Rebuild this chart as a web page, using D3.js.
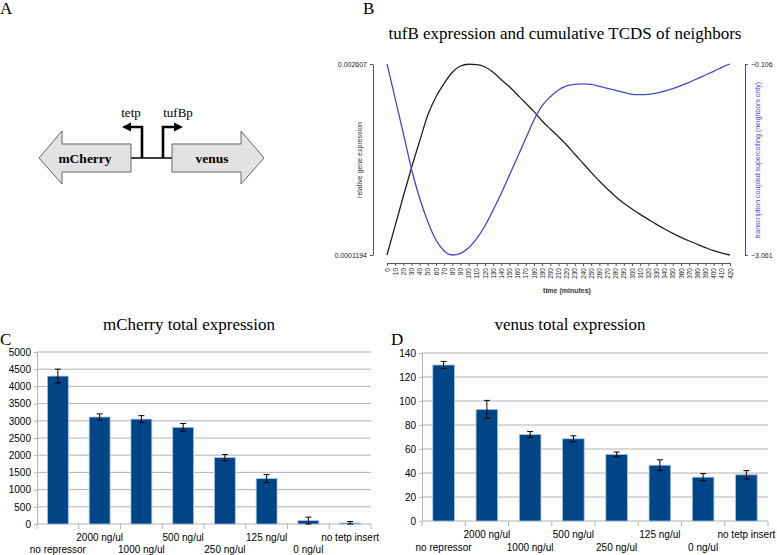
<!DOCTYPE html>
<html>
<head>
<meta charset="utf-8">
<script src="https://d3js.org/d3.v7.min.js"></script>
<style>
body { margin: 0; background: #fff; }
svg { display: block; }
</style>
</head>
<body>
<script>
// globals
var width = 777;
var height = 555;
var serif = '"Liberation Serif", "DejaVu Serif", serif';
var sans = '"Liberation Sans", Arial, sans-serif';

// panel B data: time (minutes), relative gene expression, TCDS of neighbors
var times = [0, 10, 20, 30, 40, 50, 60, 70, 80, 90, 100, 110, 120, 130, 140, 150, 160, 170, 180, 190, 200,
  210, 220, 230, 240, 250, 260, 270, 280, 290, 300, 310, 320, 330, 340, 350, 360, 370, 380, 390, 400, 410, 420];
var expression = [0.0001194, 0.000501, 0.000884, 0.001256, 0.001604, 0.001943, 0.002181, 0.002356, 0.002499,
  0.002581, 0.002604, 0.002598, 0.002568, 0.002499, 0.002402, 0.002311, 0.002203, 0.002095, 0.001986, 0.001865,
  0.001760, 0.001660, 0.001552, 0.001431, 0.001314, 0.001196, 0.001083, 0.000979, 0.000879, 0.000793, 0.000718,
  0.000649, 0.000584, 0.000519, 0.000458, 0.000402, 0.000350, 0.000302, 0.000259, 0.000215, 0.000175, 0.000145,
  0.0001194];
var supercoiling = [-0.106, -0.637, -1.178, -1.730, -2.184, -2.546, -2.829, -2.999, -3.061, -3.035, -2.948,
  -2.803, -2.608, -2.365, -2.106, -1.823, -1.540, -1.255, -0.972, -0.751, -0.612, -0.508, -0.446, -0.420,
  -0.415, -0.420, -0.451, -0.482, -0.513, -0.544, -0.575, -0.581, -0.575, -0.555, -0.524, -0.488, -0.442,
  -0.389, -0.333, -0.276, -0.219, -0.157, -0.106];

// panels C and D data
var conditions = ['no repressor', '2000 ng/ul', '1000 ng/ul', '500 ng/ul', '250 ng/ul', '125 ng/ul', '0 ng/ul', 'no tetp insert'];
var mcherry = [4300, 3110, 3050, 2810, 1930, 1320, 100, 30];
var mcherryErr = [200, 90, 100, 110, 90, 115, 100, 40];
var venus = [130, 93, 72, 68.5, 55.5, 46.5, 36.5, 38.5];
var venusErr = [3, 7.5, 2.5, 2.5, 2, 4.5, 3, 3.5];
var mcherryTicks = [0, 500, 1000, 1500, 2000, 2500, 3000, 3500, 4000, 4500, 5000];
var venusTicks = [0, 20, 40, 60, 80, 100, 120, 140];

var svg = d3.select('body').append('svg')
  .attr('width', width)
  .attr('height', height);

var panelLetter = function(letter, x, y) {
  svg.append('text').attr('x', x).attr('y', y)
    .attr('font-family', serif).attr('font-size', 17)
    .text(letter);
};

panelLetter('A', 0, 14);
panelLetter('B', 363, 14);
panelLetter('C', 0, 345);
panelLetter('D', 391, 345);

// ---------- panel A: construct diagram ----------
var drawConstruct = function() {
  var g = svg.append('g');
  var midY = 158;

  // backbone line
  g.append('line').attr('x1', 131).attr('x2', 172).attr('y1', midY).attr('y2', midY)
    .attr('stroke', '#000').attr('stroke-width', 1.5);

  var arrowStyle = function(sel) {
    sel.attr('fill', '#e2e2e2').attr('stroke', '#666').attr('stroke-width', 1);
  };

  // mCherry points left
  g.append('path')
    .attr('d', 'M131,144 L62,144 L62,131 L39,158 L62,184 L62,172 L131,172 Z')
    .call(arrowStyle);
  // venus points right
  g.append('path')
    .attr('d', 'M172,144 L241,144 L241,131 L264,158 L241,184 L241,172 L172,172 Z')
    .call(arrowStyle);

  g.append('text').attr('x', 85).attr('y', 162.5).attr('text-anchor', 'middle')
    .attr('font-family', serif).attr('font-weight', 'bold').attr('font-size', 13.5)
    .text('mCherry');
  g.append('text').attr('x', 212).attr('y', 162.5).attr('text-anchor', 'middle')
    .attr('font-family', serif).attr('font-weight', 'bold').attr('font-size', 13.5)
    .text('venus');

  // promoters
  g.append('path').attr('d', 'M142,158 L142,127 L130,127')
    .attr('fill', 'none').attr('stroke', '#000').attr('stroke-width', 2.6);
  g.append('path').attr('d', 'M131,122.5 L122,127 L131,131.5 Z').attr('fill', '#000');
  g.append('path').attr('d', 'M163,158 L163,127 L175,127')
    .attr('fill', 'none').attr('stroke', '#000').attr('stroke-width', 2.6);
  g.append('path').attr('d', 'M174,122.5 L183,127 L174,131.5 Z').attr('fill', '#000');

  g.append('text').attr('x', 131).attr('y', 117).attr('text-anchor', 'middle')
    .attr('font-family', serif).attr('font-size', 13).text('tetp');
  g.append('text').attr('x', 178).attr('y', 117).attr('text-anchor', 'middle')
    .attr('font-family', serif).attr('font-size', 13).text('tufBp');
};

// ---------- panel B: time course ----------
var drawTimeCourse = function() {
  var g = svg.append('g');
  var blue = '#4646d6';
  var x = d3.scaleLinear().domain([0, 420]).range([387, 730]);
  var yLeft = d3.scaleLinear().domain([0.0001194, 0.002607]).range([255, 64]);
  var yRight = d3.scaleLinear().domain([-3.061, -0.106]).range([255, 64]);

  g.append('text').attr('x', 565).attr('y', 39).attr('text-anchor', 'middle')
    .attr('font-family', serif).attr('font-size', 17)
    .text('tufB expression and cumulative TCDS of neighbors');

  // left axis (only min and max)
  var left = g.append('g').attr('transform', 'translate(373,0)')
    .call(d3.axisLeft(yLeft).tickValues([0.0001194, 0.002607]).tickSize(3).tickSizeOuter(0)
      .tickFormat(function(d) { return d === 0.002607 ? '0.002607' : '0.0001194'; }));
  left.selectAll('text').attr('font-family', sans).attr('font-size', 7).attr('fill', '#222');
  left.selectAll('line, path').attr('stroke', '#555');

  var right = g.append('g').attr('transform', 'translate(745,0)')
    .call(d3.axisRight(yRight).tickValues([-3.061, -0.106]).tickSize(3).tickSizeOuter(0)
      .tickFormat(d3.format('.3f')));
  right.selectAll('text').attr('font-family', sans).attr('font-size', 7).attr('fill', '#222');
  right.selectAll('line, path').attr('stroke', blue);

  var bottom = g.append('g').attr('transform', 'translate(0,263)')
    .call(d3.axisBottom(x).tickValues(times).tickSize(3).tickSizeOuter(0));
  bottom.selectAll('line, path').attr('stroke', '#555');
  bottom.selectAll('text')
    .attr('font-family', sans).attr('font-size', 6.5).attr('fill', '#222')
    .attr('text-anchor', 'end')
    .attr('transform', 'rotate(-90)')
    .attr('x', -5).attr('y', 0).attr('dy', '0.32em');

  g.append('text').attr('x', 567).attr('y', 293).attr('text-anchor', 'middle')
    .attr('font-family', sans).attr('font-size', 7).attr('font-weight', 'bold').attr('fill', '#333')
    .text('time (minutes)');
  g.append('text').attr('transform', 'translate(362,160) rotate(-90)').attr('text-anchor', 'middle')
    .attr('font-family', sans).attr('font-size', 7).attr('fill', '#333')
    .text('relative gene expression');
  g.append('text').attr('transform', 'translate(760,160) rotate(-90)').attr('text-anchor', 'middle')
    .attr('font-family', sans).attr('font-size', 7).attr('fill', blue)
    .text('transcription coupled supercoiling (neighbors only)');

  var lineLeft = d3.line()
    .x(function(d, i) { return x(times[i]); })
    .y(function(d) { return yLeft(d); })
    .curve(d3.curveMonotoneX);
  var lineRight = d3.line()
    .x(function(d, i) { return x(times[i]); })
    .y(function(d) { return yRight(d); })
    .curve(d3.curveMonotoneX);

  g.append('path').datum(expression).attr('d', lineLeft)
    .attr('fill', 'none').attr('stroke', '#222').attr('stroke-width', 1.3);
  g.append('path').datum(supercoiling).attr('d', lineRight)
    .attr('fill', 'none').attr('stroke', blue).attr('stroke-width', 1.3);
};

// ---------- panels C and D: bar charts ----------
var drawBars = function(opts) {
  var g = svg.append('g');
  var x = d3.scaleBand().domain(conditions).range([opts.x0, opts.x1])
    .paddingInner(0.5).paddingOuter(0.25);
  var y = d3.scaleLinear().domain([0, opts.max]).range([opts.y0, opts.y1]);
  var step = x.step();

  g.append('text').attr('x', opts.titleX).attr('y', 330).attr('text-anchor', 'middle')
    .attr('font-family', serif).attr('font-size', 17)
    .text(opts.title);

  // gridlines
  g.selectAll('.grid').data(opts.ticks.slice(1)).enter().append('line')
    .attr('x1', opts.x0).attr('x2', opts.x1)
    .attr('y1', function(d) { return y(d); }).attr('y2', function(d) { return y(d); })
    .attr('stroke', '#b3b3b3').attr('stroke-width', 1);

  var yAxis = g.append('g').attr('transform', 'translate(' + opts.x0 + ',0)')
    .call(d3.axisLeft(y).tickValues(opts.ticks).tickSize(3).tickSizeOuter(0).tickFormat(d3.format('d')));
  yAxis.selectAll('line, path').attr('stroke', '#b3b3b3');
  yAxis.selectAll('text').attr('font-family', sans).attr('font-size', 10).attr('fill', '#000').attr('x', -6);

  // bottom axis with ticks between categories
  g.append('line').attr('x1', opts.x0).attr('x2', opts.x1).attr('y1', opts.y0).attr('y2', opts.y0)
    .attr('stroke', '#b3b3b3');
  g.selectAll('.sep').data(d3.range(conditions.length + 1)).enter().append('line')
    .attr('x1', function(i) { return opts.x0 + i * step; })
    .attr('x2', function(i) { return opts.x0 + i * step; })
    .attr('y1', opts.y0).attr('y2', opts.y0 + 5)
    .attr('stroke', '#b3b3b3');

  g.selectAll('.lab').data(conditions).enter().append('text')
    .attr('x', function(d) { return x(d) + x.bandwidth() / 2; })
    .attr('y', function(d, i) { return i % 2 === 0 ? opts.row2 : opts.row1; })
    .attr('text-anchor', 'middle')
    .attr('font-family', sans).attr('font-size', 10).attr('fill', '#000')
    .text(function(d) { return d; });

  g.selectAll('.bar').data(opts.values).enter().append('rect')
    .attr('x', function(d, i) { return x(conditions[i]); })
    .attr('y', function(d) { return y(d); })
    .attr('width', x.bandwidth())
    .attr('height', function(d) { return opts.y0 - y(d); })
    .attr('fill', '#004586')
    .attr('stroke', '#a8c4e4').attr('stroke-width', 0.8);

  // error bars
  var err = g.selectAll('.err').data(opts.values).enter().append('g');
  var cx = function(d, i) { return x(conditions[i]) + x.bandwidth() / 2; };
  err.append('line')
    .attr('x1', cx).attr('x2', cx)
    .attr('y1', function(d, i) { return y(Math.max(0, d - opts.errors[i])); })
    .attr('y2', function(d, i) { return y(d + opts.errors[i]); })
    .attr('stroke', '#000').attr('stroke-width', 1);
  [-1, 1].forEach(function(sign) {
    err.append('line')
      .attr('x1', function(d, i) { return cx(d, i) - 3; })
      .attr('x2', function(d, i) { return cx(d, i) + 3; })
      .attr('y1', function(d, i) { return y(Math.max(0, d + sign * opts.errors[i])); })
      .attr('y2', function(d, i) { return y(Math.max(0, d + sign * opts.errors[i])); })
      .attr('stroke', '#000').attr('stroke-width', 1);
  });
};

drawConstruct();
drawTimeCourse();
drawBars({
  title: 'mCherry total expression', titleX: 189,
  values: mcherry, errors: mcherryErr, ticks: mcherryTicks, max: 5000,
  x0: 37, x1: 371, y0: 524, y1: 352, row1: 541, row2: 553
});
drawBars({
  title: 'venus total expression', titleX: 570,
  values: venus, errors: venusErr, ticks: venusTicks, max: 140,
  x0: 422, x1: 768, y0: 521, y1: 353, row1: 538, row2: 551
});
</script>
</body>
</html>
